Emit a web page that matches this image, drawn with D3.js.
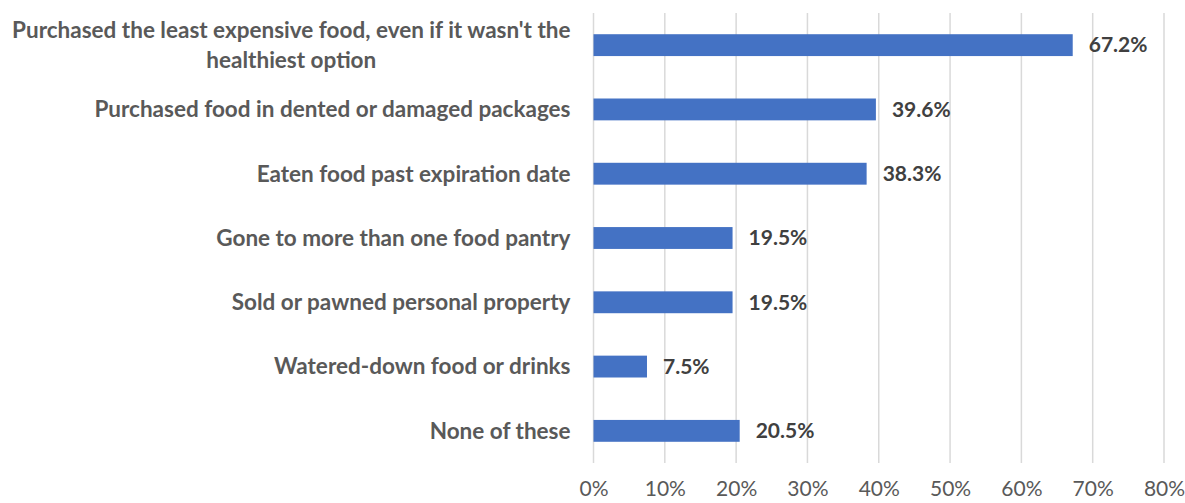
<!DOCTYPE html>
<html>
<head>
<meta charset="utf-8">
<script src="https://cdn.jsdelivr.net/npm/d3@7"></script>
<style>
  body { margin: 0; background: #fff; }
  svg { font-family: Lato, "Open Sans", sans-serif; }
</style>
</head>
<body>
<div id="container"></div>
<script>
// Chart data
const categories = [
  "Purchased the least expensive food, even if it wasn't the healthiest option",
  "Purchased food in dented or damaged packages",
  "Eaten food past expiration date",
  "Gone to more than one food pantry",
  "Sold or pawned personal property",
  "Watered-down food or drinks",
  "None of these"
];
const values = [67.2, 39.6, 38.3, 19.5, 19.5, 7.5, 20.5];
const xTicks = [0, 10, 20, 30, 40, 50, 60, 70, 80];

const dataset = categories.map((c, i) => ({ cat: c, val: values[i] }));

const svg = d3
  .select("#container")
  .append("svg")
  .attr("width", 1185)
  .attr("height", 503);

const margin = { top: 13, right: 21, bottom: 40, left: 593.5 };
const width = 1185 - margin.left - margin.right;
const height = 503 - margin.top - margin.bottom;

const x = d3.scaleLinear().domain([0, 80]).range([0, width]);
const y = d3.scaleBand().domain(categories).range([0, height]).paddingInner(0.66).paddingOuter(0.33);

const g = svg
  .append("g")
  .attr("transform", "translate(" + margin.left + "," + margin.top + ")");

// Gridlines
g.selectAll(".grid")
  .data(xTicks)
  .enter()
  .append("line")
  .attr("class", "grid")
  .attr("x1", (d) => x(d))
  .attr("x2", (d) => x(d))
  .attr("y1", 0)
  .attr("y2", height)
  .attr("stroke", "#d9d9d9")
  .attr("stroke-width", 1.5);

// X axis labels
const xAxis = g.append("g")
  .attr("transform", "translate(0," + height + ")")
  .call(d3.axisBottom(x).tickValues(xTicks).tickFormat((d) => d + "%").tickSize(0).tickPadding(18));
xAxis.select(".domain").remove();
xAxis.selectAll("text")
  .attr("fill", "#595959")
  .style("font-size", "21px")
  .style("font-family", "Lato, sans-serif");

// Bars
g.selectAll(".bar")
  .data(dataset)
  .enter()
  .append("rect")
  .attr("class", "bar")
  .attr("x", x(0))
  .attr("y", (d) => y(d.cat))
  .attr("width", (d) => x(d.val) - x(0))
  .attr("height", y.bandwidth())
  .attr("fill", "#4472c4");

// Value labels
g.selectAll(".val")
  .data(dataset)
  .enter()
  .append("text")
  .attr("class", "val")
  .attr("x", (d) => x(d.val) + 16)
  .attr("y", (d) => y(d.cat) + y.bandwidth() / 2)
  .attr("dy", "0.35em")
  .attr("fill", "#404040")
  .style("font-size", "21px")
  .style("font-weight", "bold")
  .text((d) => d.val.toFixed(1) + "%");

// Category labels (wrapped, centered block aligned right)
const labelRight = -23;
const maxLabelWidth = 580;
dataset.forEach((d) => {
  const cy = y(d.cat) + y.bandwidth() / 2;
  const t = g.append("text")
    .attr("fill", "#595959")
    .style("font-size", "22.5px")
    .style("font-weight", "bold");
  const words = d.cat.split(" ");
  const lines = [];
  let line = [];
  const probe = t.append("tspan");
  words.forEach((w) => {
    line.push(w);
    probe.text(line.join(" "));
    if (probe.node().getComputedTextLength() > maxLabelWidth && line.length > 1) {
      line.pop();
      lines.push(line.join(" "));
      line = [w];
    }
  });
  lines.push(line.join(" "));
  let widest = 0;
  lines.forEach((l) => {
    probe.text(l);
    widest = Math.max(widest, probe.node().getComputedTextLength());
  });
  probe.remove();
  const lh = 30;
  const cx = labelRight - widest / 2;
  lines.forEach((l, i) => {
    t.append("tspan")
      .attr("x", cx)
      .attr("text-anchor", "middle")
      .attr("y", cy + (i - (lines.length - 1) / 2) * lh)
      .attr("dy", "0.35em")
      .text(l);
  });
});
</script>
</body>
</html>
